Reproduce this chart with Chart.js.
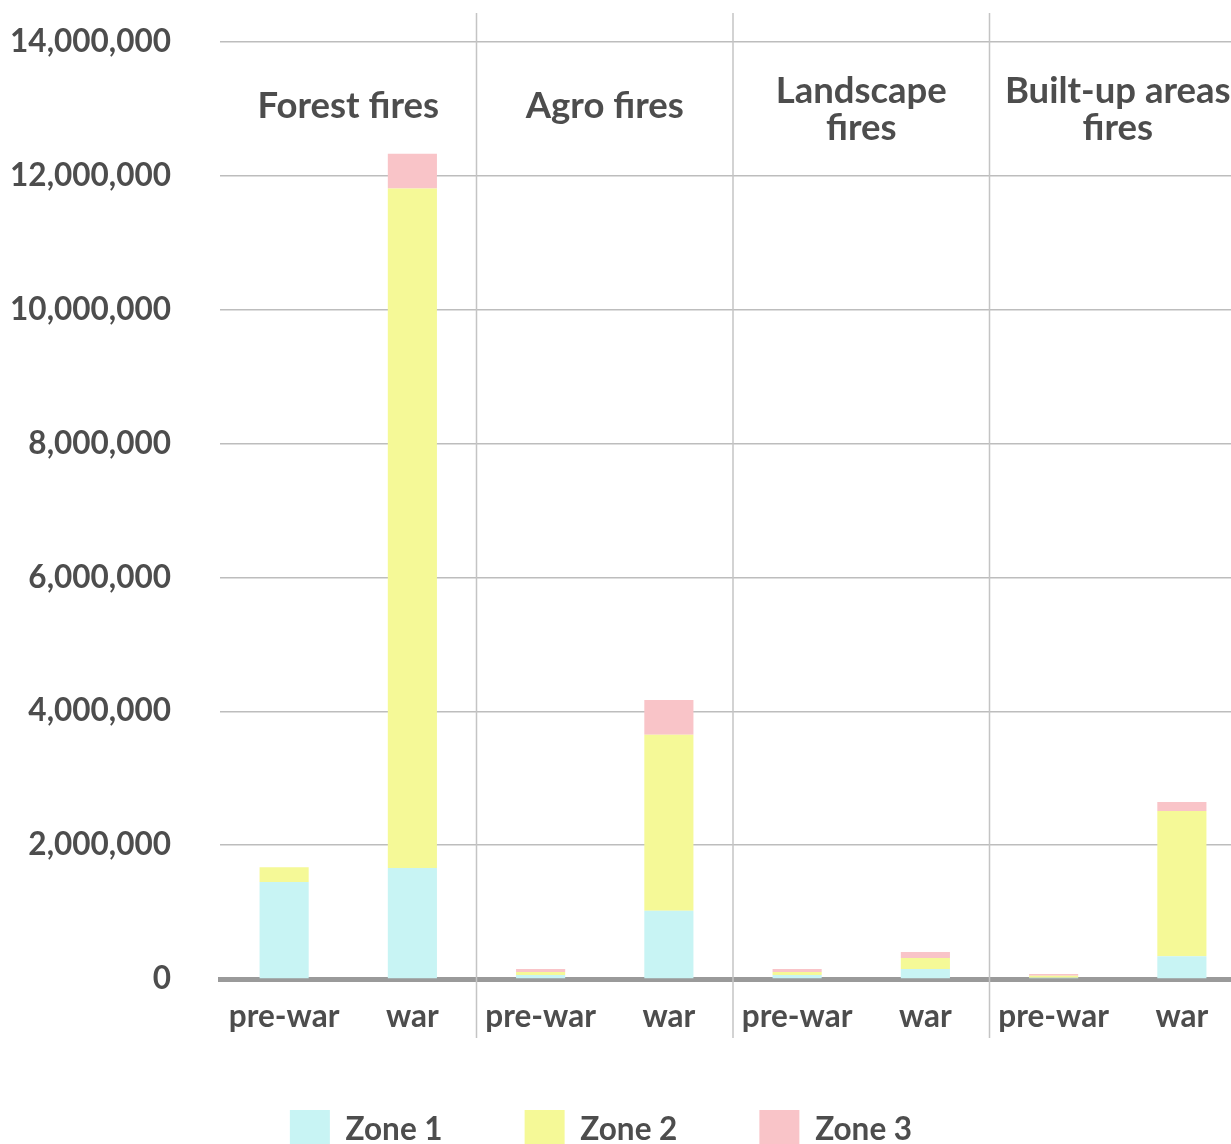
<!DOCTYPE html>
<html>
<head>
<meta charset="utf-8">
<script src="https://cdn.jsdelivr.net/npm/chart.js@4.4.1/dist/chart.umd.min.js"></script>
<style>
    html, body {margin: 0; padding: 0; background: #fff; overflow: hidden;}
    #wrap {width: 1246px; height: 1171px;}
</style>
</head>
<body>
<div id="wrap"><canvas id="chart" width="1246" height="1171"></canvas></div>
<script>
// x categories, two per fire type
const categories = ['pre-war', 'war', 'pre-war', 'war', 'pre-war', 'war', 'pre-war', 'war'];
// one title per pair of bars (arrays = wrapped lines)
const groupTitles = ['Forest fires', 'Agro fires', ['Landscape', 'fires'], ['Built-up areas', 'fires']];

// burned area per zone
const zone1 = [1450000, 1660000, 60000, 1020000, 60000, 150000, 20000, 340000];
const zone2 = [220000, 10150000, 45000, 2630000, 45000, 165000, 30000, 2170000];
const zone3 = [0, 520000, 45000, 520000, 45000, 90000, 25000, 135000];

const yTicks = [0, 2000000, 4000000, 6000000, 8000000, 10000000, 12000000, 14000000];

const textColor = '#4d4d4d';
const fontFamily = 'Lato, "Open Sans", sans-serif';

// separators between fire types + the titles on top of each pair
const groupPlugin = {
    id: 'groups',
    afterLayout(chart) {
        // nudge the legend a bit up/left, the original sits off-centre
        const lg = chart.legend;
        lg.top -= 11;
        lg.bottom -= 11;
        lg.left -= 22;
        lg.right -= 22;
    },
    afterDatasetsDraw(chart) {
        const {ctx, chartArea, scales: {x}} = chart;
        ctx.save();
        ctx.strokeStyle = '#c4c4c4';
        ctx.lineWidth = 1.5;
        for (let i = 2; i < categories.length; i += 2) {
            const sx = (x.getPixelForValue(i - 1) + x.getPixelForValue(i)) / 2;
            ctx.beginPath();
            ctx.moveTo(sx, chartArea.top - 29);
            ctx.lineTo(sx, chartArea.bottom + 59);
            ctx.stroke();
        }
        ctx.fillStyle = textColor;
        ctx.font = 'bold 36.5px ' + fontFamily;
        ctx.textAlign = 'center';
        ctx.textBaseline = 'middle';
        groupTitles.forEach((t, g) => {
            const cx = (x.getPixelForValue(g * 2) + x.getPixelForValue(g * 2 + 1)) / 2;
            if (Array.isArray(t)) {
                ctx.fillText(t[0], cx, chartArea.top + 49);
                ctx.fillText(t[1], cx, chartArea.top + 86);
            } else {
                ctx.fillText(t, cx, chartArea.top + 64);
            }
        });
        ctx.restore();
    }
};

new Chart(document.getElementById('chart'), {
    type: 'bar',
    data: {
        labels: categories,
        datasets: [
            {label: 'Zone 1', data: zone1, backgroundColor: '#c8f4f4'},
            {label: 'Zone 2', data: zone2, backgroundColor: '#f5f997'},
            {label: 'Zone 3', data: zone3, backgroundColor: '#f9c4c8'},
        ],
    },
    options: {
        responsive: false,
        animation: false,
        layout: {padding: {top: 42, left: 0, right: 0, bottom: 0}},
        datasets: {
            bar: {categoryPercentage: 1, barPercentage: 0.383, borderWidth: 0}
        },
        plugins: {
            tooltip: {enabled: false},
            legend: {
                position: 'bottom',
                labels: {
                    boxWidth: 40,
                    boxHeight: 40,
                    padding: 82,
                    color: textColor,
                    font: {family: fontFamily, size: 31.5, weight: 'bold'}
                }
            }
        },
        scales: {
            x: {
                stacked: true,
                afterFit: (scale) => { scale.height = 60; },
                grid: {display: false, drawTicks: false},
                border: {display: true, color: '#9a9a9a', width: 5},
                ticks: {
                    padding: 19,
                    color: textColor,
                    maxRotation: 0,
                    font: {family: fontFamily, size: 31.5, weight: 'bold'}
                }
            },
            y: {
                stacked: true,
                min: 0,
                max: 14000000,
                afterFit: (scale) => {
                    scale.width = 220;
                    // tick padding is horizontal here, don't let it push the plot down
                    scale.paddingTop = 0;
                    scale.paddingBottom = 0;
                },
                afterBuildTicks: (scale) => { scale.ticks = yTicks.map(v => ({value: v})); },
                grid: {color: '#bdbdbd', lineWidth: 1.5, drawTicks: false},
                border: {display: false},
                ticks: {
                    padding: 49,
                    color: textColor,
                    font: {family: fontFamily, size: 31.5, weight: 'bold'},
                    callback: (v) => v.toLocaleString('en-US')
                }
            }
        }
    },
    plugins: [groupPlugin]
});
</script>
</body>
</html>
